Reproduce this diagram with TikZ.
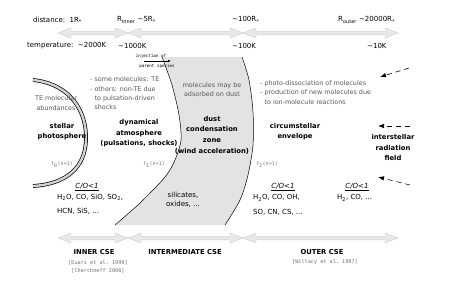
\documentclass[tikz,border=0pt]{standalone}
\usepackage{fontspec}
\setmainfont{DejaVu Sans}
\setmonofont{DejaVu Sans Mono}
\usetikzlibrary{arrows.meta,calc,positioning}
\newcommand{\Rs}{R\textsubscript{*}}
\newcommand{\tild}{\textasciitilde}
\newcommand{\fatarrow}[3]{\fill[gray!18,draw=gray!40,line width=0.4pt]
  (#1,#3)--(#1+13,#3-5)--(#1+13,#3-1.8)--(#2-13,#3-1.8)--(#2-13,#3-5)--(#2,#3)
  --(#2-13,#3+5)--(#2-13,#3+1.8)--(#1+13,#3+1.8)--(#1+13,#3+5)--cycle;}

\begin{document}
\begin{tikzpicture}[x=1pt,y=-1pt,>=Latex,
  lbl/.style={font=\fontsize{7}{8.5}\selectfont,inner sep=0pt},
  note/.style={font=\fontsize{6.4}{9.3}\selectfont,text=black!65,align=left,inner sep=0pt},
  head/.style={font=\bfseries\fontsize{6.8}{10.6}\selectfont,align=center,inner sep=0pt},
  cite/.style={font=\ttfamily\fontsize{5.2}{8}\selectfont,text=black!55,inner sep=0pt},
  fval/.style={font=\ttfamily\fontsize{5}{6}\selectfont,text=black!55,inner sep=0pt},
  tinytxt/.style={font=\ttfamily\fontsize{4.2}{5}\selectfont,inner sep=0pt},
  chem/.style={font=\fontsize{7}{8.5}\selectfont,inner sep=0pt,anchor=west},
  ratio/.style={font=\itshape\fontsize{7}{8.5}\selectfont,inner sep=0pt},
  rad/.style={dash pattern=on 5pt off 4pt,-{Latex[length=6pt,width=4.5pt]},line width=0.6pt}]
\useasboundingbox (0,0) rectangle (449,284);

% distance / temperature scale
\node[lbl,anchor=west] (dist) at (33,20) {distance:\ \ 1\Rs};
\node[lbl,anchor=west] (rin) at (117,20) {R\textsubscript{inner} \tild5\Rs};
\node[lbl,anchor=west] (r100) at (232,20) {\tild100\Rs};
\node[lbl,anchor=west] (rout) at (338,20) {R\textsubscript{outer} \tild20000\Rs};
\fatarrow{58}{128}{33}
\fatarrow{128}{243}{33}
\fatarrow{243}{398}{33}
\node[lbl,anchor=west] (temp) at (27,46) {temperature:\ \ \tild2000K};
\node[lbl,anchor=west] (t1000) at (118,46) {\tild1000K};
\node[lbl,anchor=west] (t100) at (232,46) {\tild100K};
\node[lbl,anchor=west] (t10) at (367,46) {\tild10K};

% dust condensation zone
\fill[gray!22] plot[smooth] coordinates {(162,57) (172,85) (179,115) (181,140) (175,160) (165,177) (140,203) (115,225)}
  -- plot[smooth] coordinates {(225,225) (240,200) (248,175) (253,145) (253,112) (249,80) (242,57)} -- cycle;
\draw[line width=0.5pt] plot[smooth] coordinates {(162,57) (172,85) (179,115) (181,140) (175,160) (165,177) (140,203) (115,225)};
\draw[line width=0.5pt] plot[smooth] coordinates {(242,57) (249,80) (253,112) (253,145) (248,175) (240,200) (225,225)};

% stellar photosphere
\draw[line width=0.7pt,double=gray!35,double distance=2.4pt] (33,80) .. controls (71,84) and (87,112) .. (86,140)
  .. controls (85,168) and (66,184) .. (33,186);

\node[tinytxt] (inj) at (151,56) {injection of};
\node[tinytxt] (par) at (157,66) {parent species};
\coordinate (injA) at (144,61);
\coordinate (injB) at (171,61);
\draw[-{Latex[length=3pt,width=2.5pt]},line width=0.5pt] (injA)--(injB);

\node[note,align=center] (te) at (56,103) {TE molecular\\abundances};
\node[head] (star) at (62,131.5) {stellar\\photosphere};
\node[fval] (f0) at (62,165) {f\textsubscript{0}(n≈1)};

\node[note,anchor=west] (shock) at (90,93.5) {- some molecules: TE\\- others: non-TE due\\\phantom{- }to pulsation-driven\\\phantom{- }shocks};
\node[head] (atm) at (139,133.5) {dynamical\\atmosphere\\(pulsations, shocks)};
\node[fval] (f1) at (154,165) {f\textsubscript{1}(n≈1)};

\node[note,align=center] (ads) at (212,89.5) {molecules may be\\adsorbed on dust};
\node[head] (dust) at (212,135) {dust\\condensation\\zone\\(wind acceleration)};
\node[fval] (f2) at (267,165) {f\textsubscript{2}(n≈1)};

\node[note,anchor=west] (photo) at (260,92.5) {- photo-dissociation of molecules\\- production of new molecules due\\\phantom{- }to ion-molecule reactions};
\node[head] (env) at (295,131.5) {circumstellar\\envelope};
\node[head] (isrf) at (393,147.5) {interstellar\\radiation\\field};

\coordinate (isrA) at (409,68);
\coordinate (isrB) at (380,77);
\coordinate (isrC) at (410,126);
\coordinate (isrD) at (378,126);
\coordinate (isrE) at (410,185);
\coordinate (isrF) at (378,177);
\draw[rad] (isrA)--(isrB);
\draw[rad] (isrC)--(isrD);
\draw[rad] (isrE)--(isrF);

% chemistry
\node[ratio] (co1) at (87,187) {\underline{C/O<1}};
\node[chem] (mol1) at (57,197.5) {H\textsubscript{2}O, CO, SiO, SO\textsubscript{2},};
\node[chem] (mol1b) at (57,211) {HCN, SiS, ...};
\node[lbl,align=center] (sil) at (183,199.5) {silicates,\\oxides, ...};
\node[ratio] (co2) at (283,187) {\underline{C/O<1}};
\node[chem] (mol2) at (253,198) {H\textsubscript{2}O, CO, OH,};
\node[chem] (mol2b) at (253,212) {SO, CN, CS, ...};
\node[ratio] (co3) at (357,187) {\underline{C/O<1}};
\node[chem] (mol3) at (337,198) {H\textsubscript{2}, CO, ...};

% regions
\fatarrow{58}{128}{238}
\fatarrow{128}{243}{238}
\fatarrow{243}{398}{238}
\node[head] (inner) at (94,252) {INNER CSE};
\node[head] (inter) at (185,252) {INTERMEDIATE CSE};
\node[head] (outer) at (322,252) {OUTER CSE};
\node[cite] (ref1) at (98,262.5) {[Duari et al. 1999]};
\node[cite] (ref2) at (98,270.5) {[Cherchneff 2006]};
\node[cite] (ref3) at (325,262.5) {[Willacy et al. 1997]};
\end{tikzpicture}
\end{document}
